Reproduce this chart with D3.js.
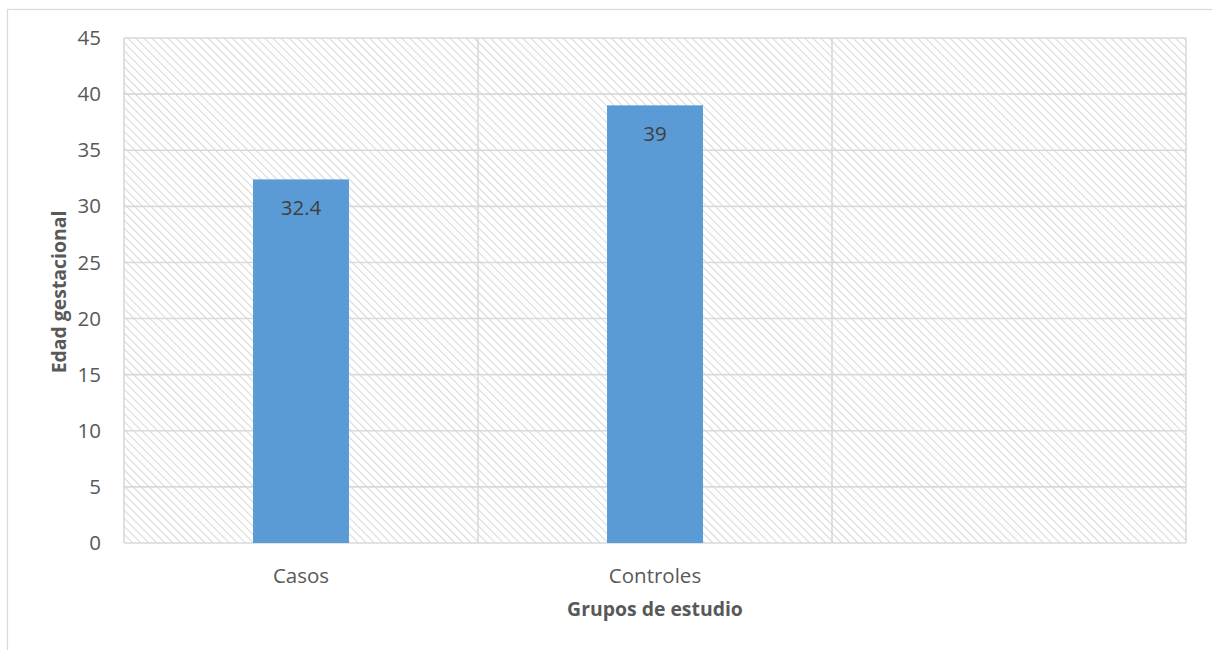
<!DOCTYPE html>
<html>
<head>
<meta charset="utf-8">
<script src="https://cdn.jsdelivr.net/npm/d3@7"></script>
<style>
  html, body { margin: 0; padding: 0; background: #fff; }
  svg { display: block; font-family: "Open Sans", "Liberation Sans", sans-serif; }
</style>
</head>
<body>
<svg id="chart" width="1212" height="650"></svg>
<script>
// Groups on the category axis (the third slot is left empty)
const categories = ["Casos", "Controles", ""];
// Mean gestational age per group
const values = [32.4, 39, null];
const valueLabels = ["32.4", "39", ""];
// Y axis ticks
const yTicks = [0, 5, 10, 15, 20, 25, 30, 35, 40, 45];

const svg = d3.select("#chart");
const margin = { left: 124, right: 1186, top: 38, bottom: 543 };
const fontSize = 20.5;
const titleSize = 19.4;

// Outer chart frame
svg.append("rect")
  .attr("x", 7.5).attr("y", 9.5)
  .attr("width", 1212).attr("height", 660)
  .attr("fill", "#fff")
  .attr("stroke", "#d9d9d9").attr("stroke-width", 1.2);

// Diagonal hatch used as plot-area fill
const defs = svg.append("defs");
const pat = defs.append("pattern")
  .attr("id", "hatch")
  .attr("patternUnits", "userSpaceOnUse")
  .attr("width", 5.7).attr("height", 5.7)
  .attr("patternTransform", "rotate(-45)");
pat.append("rect").attr("width", 5.7).attr("height", 5.7).attr("fill", "#ffffff");
pat.append("line")
  .attr("x1", 0).attr("y1", 0).attr("x2", 0).attr("y2", 5.7)
  .attr("stroke", "#d9d9d9").attr("stroke-width", 2.2);

const x = d3.scaleBand()
  .domain(categories)
  .range([margin.left, margin.right])
  .paddingInner(0).paddingOuter(0);

const y = d3.scaleLinear()
  .domain([0, 45])
  .range([margin.bottom, margin.top]);

// Plot area background
svg.append("rect")
  .attr("x", margin.left).attr("y", margin.top)
  .attr("width", margin.right - margin.left)
  .attr("height", margin.bottom - margin.top)
  .attr("fill", "url(#hatch)");

// Horizontal gridlines
svg.append("g")
  .selectAll("line")
  .data(yTicks)
  .join("line")
  .attr("x1", margin.left).attr("x2", margin.right)
  .attr("y1", d => y(d)).attr("y2", d => y(d))
  .attr("stroke", "#d9d9d9").attr("stroke-width", 1.6);

// Vertical gridlines at category boundaries
svg.append("g")
  .selectAll("line")
  .data(categories)
  .join("line")
  .attr("x1", d => x(d) + x.bandwidth()).attr("x2", d => x(d) + x.bandwidth())
  .attr("y1", margin.top).attr("y2", margin.bottom)
  .attr("stroke", "#d9d9d9").attr("stroke-width", 1.6);

// Left axis line
svg.append("line")
  .attr("x1", margin.left).attr("x2", margin.left)
  .attr("y1", margin.top).attr("y2", margin.bottom)
  .attr("stroke", "#d9d9d9").attr("stroke-width", 1.6);

// Y axis
const yAxis = svg.append("g")
  .attr("transform", `translate(${margin.left - 23},0)`)
  .call(d3.axisLeft(y).tickValues(yTicks).tickSize(0).tickPadding(0));
yAxis.select(".domain").remove();
yAxis.selectAll("text")
  .attr("fill", "#595959")
  .attr("font-size", fontSize)
  .attr("font-family", "Open Sans, sans-serif");

// X axis labels
const xAxis = svg.append("g")
  .attr("transform", `translate(0,${margin.bottom + 25})`)
  .call(d3.axisBottom(x).tickSize(0).tickPadding(0));
xAxis.select(".domain").remove();
xAxis.selectAll("text")
  .attr("fill", "#595959")
  .attr("font-size", fontSize)
  .attr("font-family", "Open Sans, sans-serif");

// Bars
const barW = x.bandwidth() * 0.271;
const data = categories.map((c, i) => ({ c, v: values[i], label: valueLabels[i] }))
  .filter(d => d.v != null);

svg.append("g")
  .selectAll("rect")
  .data(data)
  .join("rect")
  .attr("x", d => x(d.c) + x.bandwidth() / 2 - barW / 2)
  .attr("width", barW)
  .attr("y", d => y(d.v))
  .attr("height", d => y(0) - y(d.v))
  .attr("fill", "#5b9bd5");

// Value labels inside bar tops
svg.append("g")
  .selectAll("text")
  .data(data)
  .join("text")
  .attr("x", d => x(d.c) + x.bandwidth() / 2)
  .attr("y", d => y(d.v) + 35.5)
  .attr("text-anchor", "middle")
  .attr("fill", "#404040")
  .attr("font-size", fontSize)
  .text(d => d.label);

// Axis titles
svg.append("text")
  .attr("x", (margin.left + margin.right) / 2)
  .attr("y", 616)
  .attr("text-anchor", "middle")
  .attr("font-weight", "bold")
  .attr("font-size", titleSize)
  .attr("fill", "#595959")
  .text("Grupos de estudio");

svg.append("text")
  .attr("transform", `translate(66,292) rotate(-90)`)
  .attr("text-anchor", "middle")
  .attr("font-weight", "bold")
  .attr("font-size", titleSize)
  .attr("fill", "#595959")
  .text("Edad gestacional");
</script>
</body>
</html>
